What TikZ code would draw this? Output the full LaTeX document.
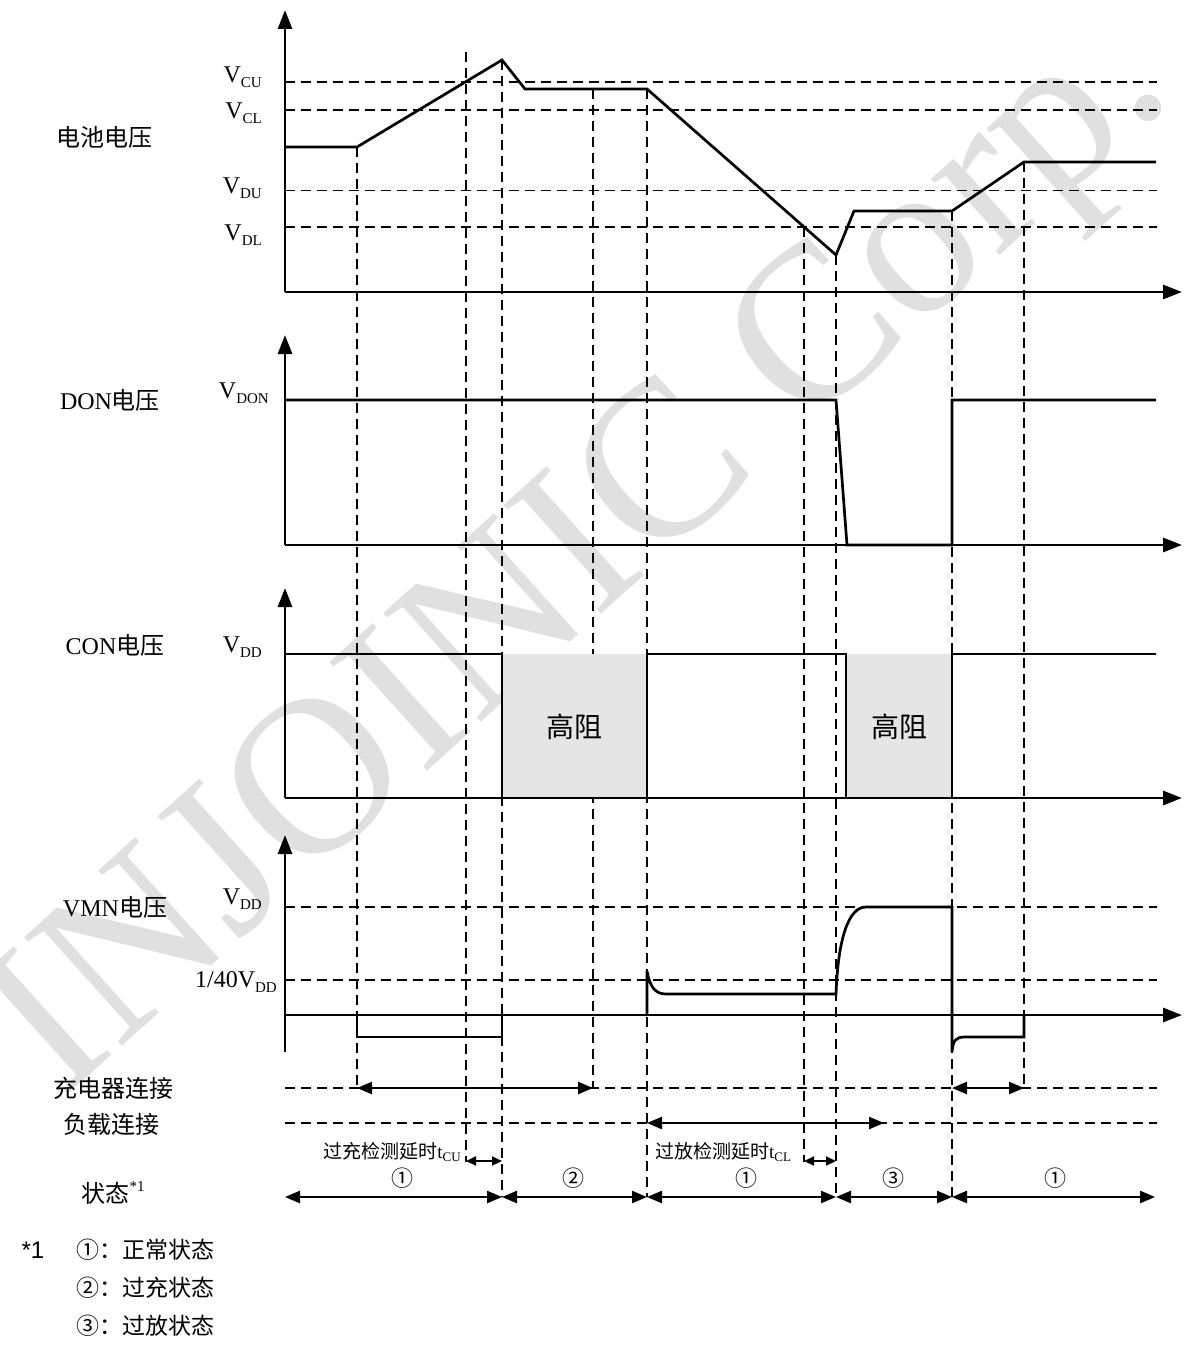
\documentclass[tikz,border=0pt]{standalone}
\usepackage{fontspec}
\setmainfont{Liberation Serif}
\newfontfamily\cjk{Noto Sans CJK SC}
\newfontfamily\sansf{Liberation Sans}
\usetikzlibrary{arrows.meta}
\definecolor{wm}{RGB}{224,224,224}
\definecolor{hiz}{RGB}{229,229,229}
\newcommand{\Vsub}[2][V]{#1\raisebox{-0.22em}{\fontsize{15}{15}\selectfont #2}}
\begin{document}
\begin{tikzpicture}[x=1pt,y=-1pt,
  axis/.style={line width=2.9pt,-{Triangle[length=19pt,width=14pt]}},
  wave/.style={line width=2.7pt,line join=miter},
  gridline/.style={line width=1.5pt,dash pattern=on 10pt off 6pt},
  dimarr/.style={line width=2.4pt,{Triangle[length=15pt,width=12pt]}-{Triangle[length=15pt,width=12pt]}},
  smallarr/.style={line width=2pt,{Triangle[length=10pt,width=9pt]}-{Triangle[length=10pt,width=9pt]}},
  lbl/.style={font=\fontsize{24}{28}\selectfont,inner sep=0pt},
  vlbl/.style={font=\fontsize{24}{28}\selectfont,inner sep=0pt,anchor=base east},
  circ/.style={font=\fontsize{22}{24}\selectfont\cjk,inner sep=0pt},
  small/.style={font=\fontsize{19}{22}\selectfont,inner sep=0pt}]
\useasboundingbox (0,0) rectangle (1186,1346);
\fill[white] (0,0) rectangle (1186,1346);

% watermark
\node[text=wm,font=\fontsize{223}{223}\selectfont,rotate=42,anchor=base west,inner sep=0pt] (wmark) at (62,1100) {INJOINIC Corp.};

% horizontal dashed reference lines
\foreach \yy in {82,110,190.7,227,907,980,1088,1123}
  \draw[gridline] (285,\yy) -- (1157,\yy);

% vertical dashed time lines
\draw[gridline] (357,147) -- (357,1088);
\draw[gridline] (466,52) -- (466,1162);
\draw[gridline] (502,60) -- (502,1197);
\draw[gridline] (593,89) -- (593,1088);
\draw[gridline] (647,89) -- (647,1197);
\draw[gridline] (804,227) -- (804,1162);
\draw[gridline] (836,255) -- (836,1197);
\draw[gridline] (952,211) -- (952,1197);
\draw[gridline] (1024,162) -- (1024,1088);

% high impedance shading
\fill[hiz] (502,654) rectangle (647,798);
\fill[hiz] (846,654) rectangle (952,798);

% axes
\draw[axis] (285,292) -- (285,10);
\draw[axis] (285,292) -- (1182,292);
\draw[axis] (285,545) -- (285,335);
\draw[axis] (285,545) -- (1182,545);
\draw[axis] (285,798) -- (285,588);
\draw[axis] (285,798) -- (1182,798);
\draw[axis] (285,1052) -- (285,835);
\draw[axis] (285,1015) -- (1182,1015);

% battery voltage
\draw[wave] (285,147) -- (357,147) -- (502,60) -- (525,89) -- (647,89) -- (836,255) -- (854,211) -- (952,211) -- (1024,162) -- (1156,162);
% DON voltage
\draw[wave] (285,400) -- (836,400) -- (847,545) -- (952,545) -- (952,400) -- (1156,400);
% CON voltage
\draw[wave] (285,654) -- (502,654) -- (502,798);
\draw[wave] (647,798) -- (647,654) -- (846,654) -- (846,798);
\draw[wave] (952,798) -- (952,654) -- (1156,654);
% VMN voltage
\draw[wave] (357,1015) -- (357,1037) -- (502,1037) -- (502,1015);
\draw[wave] (647,1015) -- (647,971) .. controls (650,988) and (656,994) .. (666,994) -- (836,994)
  .. controls (838,940) and (848,907) .. (866,907) -- (952,907) -- (952,1052)
  .. controls (953,1040) and (956,1037) .. (965,1037) -- (1024,1037) -- (1024,1015);

% labels
\node[lbl] (lbat) at (104,137) {\cjk 电池电压};
\node[vlbl] (lvcu) at (262,82) {\Vsub{CU}};
\node[vlbl] (lvcl) at (262,118) {\Vsub{CL}};
\node[vlbl] (lvdu) at (262,193) {\Vsub{DU}};
\node[vlbl] (lvdl) at (262,240) {\Vsub{DL}};
\node[lbl] (ldon) at (110,400) {DON{\cjk 电压}};
\node[vlbl] (lvdon) at (269,398) {\Vsub{DON}};
\node[lbl] (lcon) at (115,645) {CON{\cjk 电压}};
\node[vlbl] (lvdd1) at (262,652) {\Vsub{DD}};
\node[lbl] (lvmn) at (115,907) {VMN{\cjk 电压}};
\node[vlbl] (lvdd2) at (262,904) {\Vsub{DD}};
\node[vlbl] (lvdd3) at (277,987) {\Vsub[1/40V]{DD}};
\node[font=\fontsize{28}{30}\selectfont\cjk,inner sep=0pt] (hz1) at (574,727) {高阻};
\node[font=\fontsize{28}{30}\selectfont\cjk,inner sep=0pt] (hz2) at (899,727) {高阻};
\node[lbl] (lchg) at (113,1088) {\cjk 充电器连接};
\node[lbl] (lload) at (111,1124) {\cjk 负载连接};
\node[lbl] (lstate) at (113,1193) {{\cjk 状态}\raisebox{0.45em}{\fontsize{15}{15}\selectfont *1}};

% charger / load connection arrows
\coordinate (ca1) at (357,1088); \coordinate (ca2) at (593,1088);
\coordinate (ca3) at (952,1088); \coordinate (ca4) at (1024,1088);
\coordinate (la1) at (647,1123); \coordinate (la2) at (884,1123);
\draw[dimarr] (ca1) -- (ca2);
\draw[dimarr] (ca3) -- (ca4);
\draw[dimarr] (la1) -- (la2);

% delay arrows
\coordinate (tu1) at (466,1161); \coordinate (tu2) at (502,1161);
\coordinate (tl1) at (804,1161); \coordinate (tl2) at (836,1161);
\draw[smallarr] (tu1) -- (tu2);
\draw[smallarr] (tl1) -- (tl2);
\node[small,anchor=base east] (ltcu) at (461,1158) {{\cjk 过充检测延时}t\raisebox{-0.2em}{\fontsize{13}{13}\selectfont CU}};
\node[small,anchor=base west] (ltcl) at (655,1158) {{\cjk 过放检测延时}t\raisebox{-0.2em}{\fontsize{13}{13}\selectfont CL}};

% state arrows
\coordinate (s0) at (285,1197); \coordinate (s1) at (502,1197);
\coordinate (s2) at (647,1197); \coordinate (s3) at (836,1197);
\coordinate (s4) at (952,1197); \coordinate (s5) at (1155,1197);
\draw[dimarr] (s0) -- (s1);
\draw[dimarr] (s1) -- (s2);
\draw[dimarr] (s2) -- (s3);
\draw[dimarr] (s3) -- (s4);
\draw[dimarr] (s4) -- (s5);
\node[circ] (st1) at (402,1178) {①};
\node[circ] (st2) at (573,1178) {②};
\node[circ] (st3) at (746,1178) {①};
\node[circ] (st4) at (893,1178) {③};
\node[circ] (st5) at (1055,1178) {①};

% footnote
\node[font=\fontsize{24}{28}\selectfont\sansf,inner sep=0pt] (fn) at (33,1250) {*1};
\node[font=\fontsize{23}{28}\selectfont\cjk,inner sep=0pt,anchor=west] (fn1) at (76,1250) {①：正常状态};
\node[font=\fontsize{23}{28}\selectfont\cjk,inner sep=0pt,anchor=west] (fn2) at (76,1288) {②：过充状态};
\node[font=\fontsize{23}{28}\selectfont\cjk,inner sep=0pt,anchor=west] (fn3) at (76,1326) {③：过放状态};
\end{tikzpicture}
\end{document}
